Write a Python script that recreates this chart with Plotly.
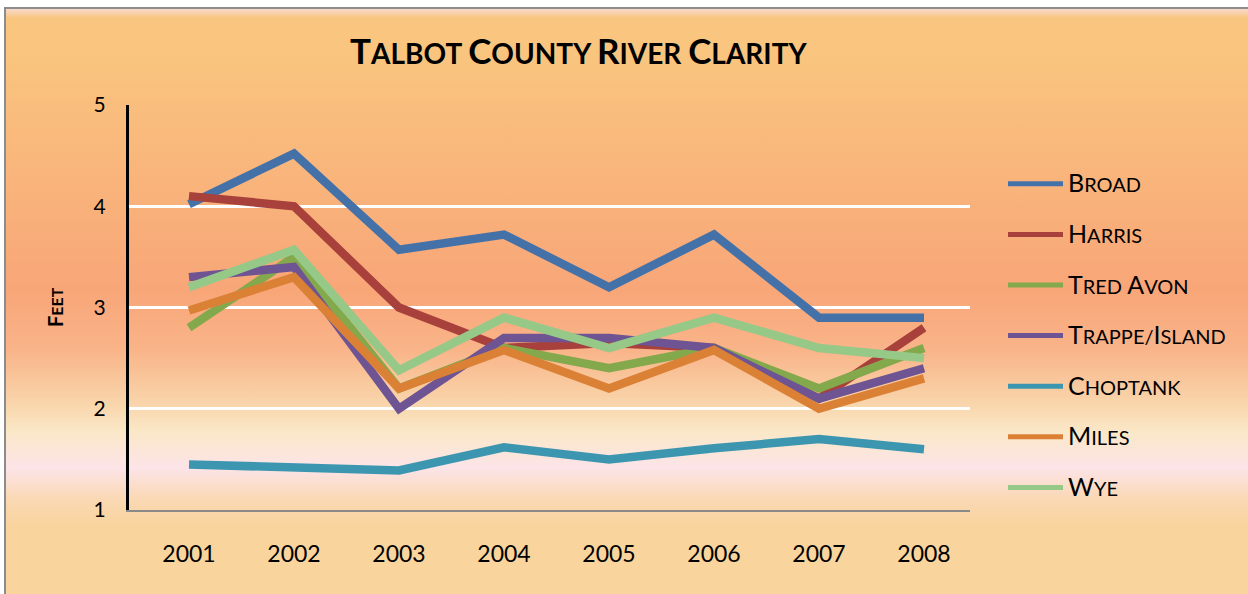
import base64
import plotly.graph_objects as go

years = ["2001", "2002", "2003", "2004", "2005", "2006", "2007", "2008"]
series_names = ["Broad", "Harris", "Tred Avon", "Trappe/Island", "Choptank", "Miles", "Wye"]
broad = [4.02, 4.52, 3.57, 3.72, 3.2, 3.72, 2.9, 2.9]
harris = [4.1, 4.0, 3.0, 2.6, 2.65, 2.6, 2.1, 2.8]
tred_avon = [2.8, 3.5, 2.2, 2.6, 2.4, 2.6, 2.2, 2.6]
trappe_island = [3.3, 3.4, 2.0, 2.7, 2.7, 2.6, 2.1, 2.4]
choptank = [1.45, 1.42, 1.39, 1.62, 1.5, 1.61, 1.7, 1.6]
miles = [2.97, 3.3, 2.2, 2.58, 2.2, 2.58, 2.0, 2.3]
wye = [3.2, 3.57, 2.38, 2.9, 2.6, 2.9, 2.6, 2.5]
values = [broad, harris, tred_avon, trappe_island, choptank, miles, wye]
colors = ["#4472A8", "#A8403C", "#84A84C", "#6E5492", "#3D96B0", "#DB8136", "#96C888"]

W, H = 1248, 594
L, R, T, B = 129, 970, 105, 510
FONT = "Lato"


def smallcaps(text, big, small, bold=False):
    words = text.split(" ")
    out = []
    for wi, word in enumerate(words):
        parts = []
        for i, ch in enumerate(word):
            size = big if (i == 0 or ch.isupper()) else small
            parts.append(f"<span style='font-size:{size}px'>{ch.upper()}</span>")
        if wi < len(words) - 1:
            parts.append(f"<span style='font-size:{small}px'>\u00a0</span>")
        out.append("".join(parts))
    s = "".join(out)
    return f"<b>{s}</b>" if bold else s


# background gradient as inline SVG
stops = [
    (9, "#F8D8CC"), (18, "#F9C680"), (60, "#F9C47E"), (150, "#F9B87C"),
    (290, "#F8A678"), (350, "#F9B489"), (405, "#F9D6AC"), (432, "#FAE8C8"),
    (468, "#FCE4E8"), (500, "#FAD8B2"), (528, "#F9D49C"), (594, "#F9D49C"),
]
stop_xml = "".join(
    f"<stop offset='{(y - 9) / (H - 9):.4f}' stop-color='{c}'/>" for y, c in stops
)
svg = (
    f"<svg xmlns='http://www.w3.org/2000/svg' width='{W}' height='{H}' viewBox='0 0 {W} {H}' preserveAspectRatio='none'>"
    f"<defs><linearGradient id='g' x1='0' y1='0' x2='0' y2='1'>{stop_xml}</linearGradient></defs>"
    f"<rect x='0' y='0' width='{W}' height='{H}' fill='white'/>"
    f"<rect x='6' y='9' width='{W - 6}' height='{H - 9}' fill='url(#g)'/>"
    f"<rect x='6' y='7' width='{W - 6}' height='2' fill='#8C8C8C'/>"
    f"<rect x='4' y='7' width='2' height='{H - 7}' fill='#8C8C8C'/>"
    f"</svg>"
)
bg_uri = "data:image/svg+xml;base64," + base64.b64encode(svg.encode()).decode()

pw, ph = R - L, B - T

fig = go.Figure()
for name, vals, col in zip(series_names, values, colors):
    fig.add_trace(go.Scatter(
        x=list(range(len(years))), y=vals, mode="lines", name=name,
        line=dict(color=col, width=8.5), legendgroup=name, showlegend=False,
    ))
# legend entries (thinner sample lines, as in the reference)
for name, col in zip(series_names, colors):
    fig.add_trace(go.Scatter(
        x=[None], y=[None], mode="lines", name=smallcaps(name, 25, 20),
        line=dict(color=col, width=5), legendgroup=name, showlegend=True,
        hoverinfo="skip",
    ))

fig.update_layout(
    width=W, height=H,
    margin=dict(l=L, r=W - R, t=T, b=H - B, pad=0),
    paper_bgcolor="white",
    plot_bgcolor="rgba(0,0,0,0)",
    font=dict(family=FONT, color="black"),
    showlegend=True,
    legend=dict(
        x=(1003 - L) / pw, xanchor="left", y=(B - 336) / ph, yanchor="middle",
        bgcolor="rgba(0,0,0,0)", font=dict(size=22, family=FONT, color="black"),
        tracegroupgap=19, itemwidth=55,
    ),
    images=[dict(
        source=bg_uri, xref="paper", yref="paper",
        x=-L / pw, y=B / ph, sizex=W / pw, sizey=H / ph,
        xanchor="left", yanchor="top", sizing="stretch", layer="below",
    )],
    annotations=[
        dict(text=smallcaps("Talbot County River Clarity", 35, 28, bold=True),
             xref="paper", yref="paper", x=(578 - L) / pw, y=(B - 50) / ph,
             xanchor="center", yanchor="middle", showarrow=False,
             font=dict(family=FONT, color="black")),
        dict(text=smallcaps("Feet", 20, 16, bold=True),
             xref="paper", yref="paper", x=(55 - L) / pw, y=(B - 307) / ph,
             xanchor="center", yanchor="middle", textangle=-90, showarrow=False,
             font=dict(family=FONT, color="black")),
    ],
)
fig.update_xaxes(
    tickmode="array", tickvals=list(range(len(years))), ticktext=years,
    range=[-(189 - L) / 105, (R - 189) / 105],
    showgrid=False, zeroline=False, showline=True, linecolor="#8A8A8A", linewidth=1.5,
    ticks="", tickfont=dict(size=23, family=FONT), ticklabelstandoff=23,
)
fig.update_yaxes(
    range=[1, 5], tickvals=[1, 2, 3, 4, 5], showgrid=True, gridcolor="white", gridwidth=3,
    zeroline=False, showline=True, linecolor="black", linewidth=3,
    ticks="", tickfont=dict(size=21, family=FONT), ticklabelstandoff=16,
)

fig.write_html(
    "out.html",
    config={"displayModeBar": False},
    post_script="document.body.style.margin='0px';document.body.style.overflow='hidden';",
)
